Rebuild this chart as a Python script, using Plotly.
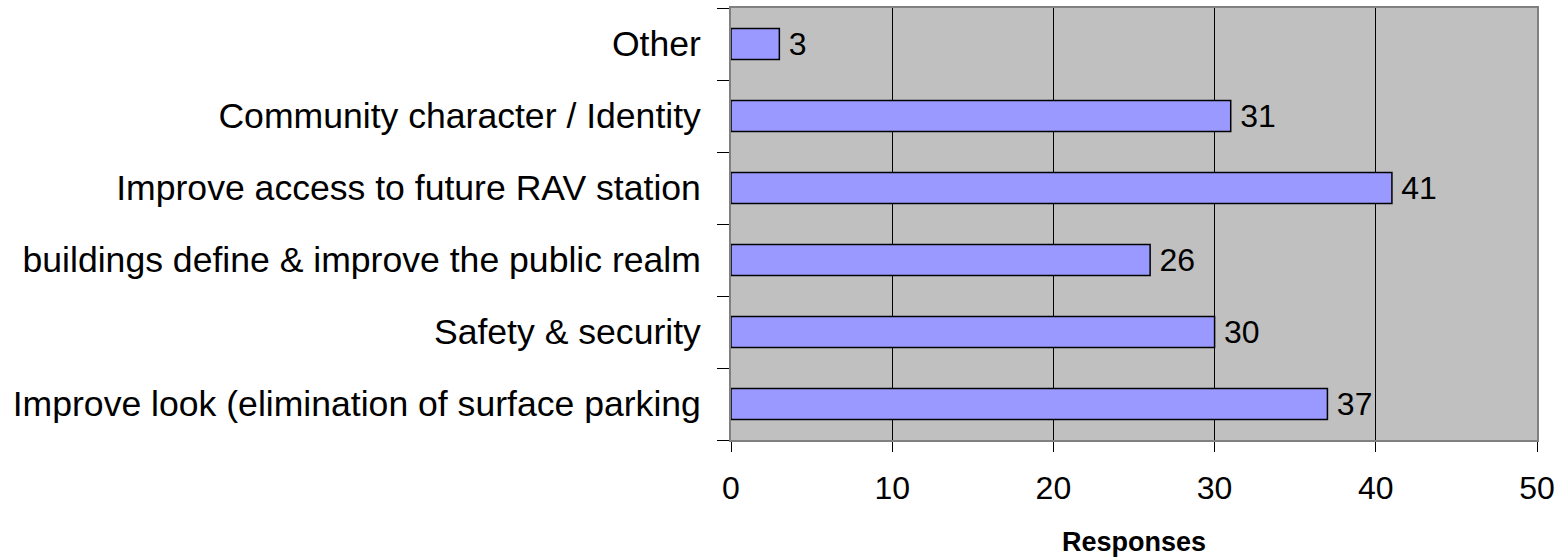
import plotly.graph_objects as go

categories = [
    "Improve look (elimination of surface parking",
    "Safety & security",
    "buildings define & improve the public realm",
    "Improve access to future RAV station",
    "Community character / Identity",
    "Other",
]
responses = [37, 30, 26, 41, 31, 3]
x_ticks = [0, 10, 20, 30, 40, 50]

FONT = "Liberation Sans, Arial, sans-serif"

fig = go.Figure(
    go.Bar(
        x=responses,
        y=categories,
        orientation="h",
        width=0.43,
        marker=dict(color="#9999FF", line=dict(color="#000000", width=1.5)),
        text=responses,
        texttemplate="\u2009%{x}",
        textposition="outside",
        constraintext="none",
        cliponaxis=False,
        textfont=dict(family=FONT, size=32, color="#000000"),
        hoverinfo="skip",
    )
)

fig.update_layout(
    width=1566,
    height=557,
    margin=dict(l=731, r=29, t=8, b=117),
    paper_bgcolor="#FFFFFF",
    plot_bgcolor="#C0C0C0",
    showlegend=False,
    font=dict(family=FONT, color="#000000"),
)

fig.update_xaxes(
    range=[0, 50],
    tickvals=x_ticks,
    ticktext=[str(v) for v in x_ticks],
    automargin=False,
    showgrid=True,
    gridcolor="#000000",
    gridwidth=1,
    zeroline=False,
    showline=True,
    linecolor="#808080",
    linewidth=2,
    mirror=True,
    ticks="outside",
    ticklen=10,
    tickcolor="#000000",
    tickfont=dict(family=FONT, size=32, color="#000000"),
    ticklabelstandoff=9,
    title=dict(
        text="<b>Responses</b>",
        font=dict(family=FONT, size=27, color="#000000"),
        standoff=27,
    ),
)

fig.update_yaxes(
    type="category",
    categoryorder="array",
    categoryarray=categories,
    automargin=False,
    showgrid=False,
    showline=True,
    linecolor="#808080",
    linewidth=2,
    mirror=True,
    ticks="outside",
    tickson="boundaries",
    ticklen=12,
    tickcolor="#000000",
    tickfont=dict(family=FONT, size=35.6, color="#000000"),
    ticklabelstandoff=21,
)

fig.write_html(
    "out.html",
    config={"displayModeBar": False},
    post_script="document.body.style.margin='0';",
)
